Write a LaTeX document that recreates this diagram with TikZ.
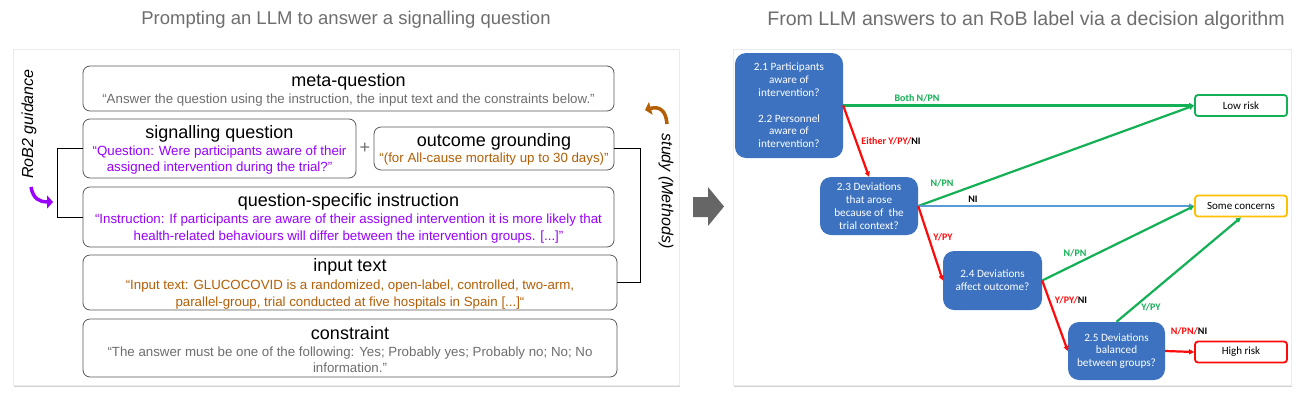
\documentclass[tikz,border=0pt]{standalone}
\usepackage{fontspec}
\setmainfont{Liberation Sans}
\newfontfamily\calibri{Carlito}
\usetikzlibrary{arrows.meta,shadows}
\definecolor{promptpurple}{RGB}{153,0,255}
\definecolor{promptorange}{RGB}{180,95,6}
\definecolor{promptgray}{RGB}{110,110,110}
\definecolor{boxline}{RGB}{89,89,89}
\definecolor{nodeblue}{RGB}{61,114,192}
\definecolor{riskgreen}{RGB}{20,176,85}
\definecolor{riskred}{RGB}{255,10,10}
\definecolor{riskorange}{RGB}{255,192,0}
\definecolor{lineblue}{RGB}{91,155,213}

\tikzset{
  panel/.style={fill=white, draw=black!8, inner sep=0pt,
    drop shadow={opacity=0.35, shadow xshift=1.2pt, shadow yshift=-1.5pt}},
  paneltitle/.style={text=promptgray, font=\fontsize{18.5}{20}\selectfont, inner sep=0pt},
  promptbox/.style={draw=boxline, line width=0.8pt, rounded corners=7pt, inner sep=0pt},
  boxtitle/.style={font=\fontsize{18}{20}\selectfont, inner sep=0pt},
  boxtext/.style={font=\fontsize{13.3}{16.5}\selectfont, align=center, inner sep=0pt},
  question/.style={fill=nodeblue, rounded corners=11pt, text=white, align=center,
    font=\calibri\fontsize{11.2}{12.8}\selectfont, inner sep=0pt},
  outcome/.style={draw=#1, fill=white, line width=1.8pt, rounded corners=3pt,
    font=\calibri\fontsize{11}{12}\selectfont, minimum width=92pt, minimum height=21pt, inner sep=0pt},
  link/.style={line width=2.2pt, -{Triangle[length=5pt,width=5pt]}},
  answer/.style={font=\calibri\bfseries\fontsize{10}{11}\selectfont, inner sep=0pt},
  sidenote/.style={font=\itshape\fontsize{16}{18}\selectfont, inner sep=0pt}
}

\begin{document}
\begin{tikzpicture}[x=1pt, y=-1pt]
  \useasboundingbox (0,0) rectangle (1306,408);

  % Panels and their titles
  \node[panel, minimum width=666, minimum height=336] (promptpanel) at (346,217) {};
  \node[panel, minimum width=558, minimum height=336] (treepanel) at (1012,217) {};
  \node[paneltitle] (lefttitle) at (346,20) {Prompting an LLM to answer a signalling question};
  \node[paneltitle, font=\fontsize{19.6}{21}\selectfont] (righttitle) at (1026,20) {From LLM answers to an RoB label via a decision algorithm};

  % Prompt parts
  \node[promptbox, minimum width=531, minimum height=45] (meta) at (348.5,88.5) {};
  \node[boxtitle] (metatitle) at (348.5,82) {meta-question};
  \node[boxtext, text=promptgray] (metatext) at (348.5,100) {“Answer the question using the instruction, the input text and the constraints below."};

  \node[promptbox, minimum width=273, minimum height=59] (sig) at (219.5,148.5) {};
  \node[boxtitle] (sigtitle) at (219.5,134) {signalling question};
  \node[boxtext, text=promptpurple] (sigtext) at (219.5,160) {“Question: Were participants aware of their\\assigned intervention during the trial?”};

  \node[font=\fontsize{18}{20}\selectfont, text=promptgray, inner sep=0pt] (plus) at (365,148) {+};

  \node[promptbox, minimum width=240, minimum height=43] (og) at (494,148.5) {};
  \node[boxtitle] (ogtitle) at (494,142) {outcome grounding};
  \node[boxtext, text=promptorange] (ogtext) at (494,159) {“(for All-cause mortality up to 30 days)”};

  \node[promptbox, minimum width=531, minimum height=60] (qsi) at (348.5,217) {};
  \node[boxtitle] (qsititle) at (348.5,202) {question-specific instruction};
  \node[boxtext, text=promptpurple] (qsitext) at (348.5,228.5) {“Instruction: If participants are aware of their assigned intervention it is more likely that\\health-related behaviours will differ between the intervention groups. [...]"};

  \node[promptbox, minimum width=534, minimum height=55] (inp) at (350,282.5) {};
  \node[boxtitle] (inptitle) at (350,267) {input text};
  \node[boxtext, text=promptorange] (inptext) at (350,294.5) {“Input text: GLUCOCOVID is a randomized, open-label, controlled, two-arm,\\parallel-group, trial conducted at five hospitals in Spain [...]“};

  \node[promptbox, minimum width=534, minimum height=58] (con) at (350,348) {};
  \node[boxtitle] (contitle) at (350,333) {constraint};
  \node[boxtext, text=promptgray] (context) at (350,359.5) {“The answer must be one of the following: Yes; Probably yes; Probably no; No; No\\information."};

  % Sources
  \draw (sig.west) -- ++(-25,0) |- (qsi.west);
  \draw (og.east) -- ++(26,0) |- (inp.east);
  \node[sidenote, rotate=90] (robguide) at (29,124) {RoB2 guidance};
  \node[sidenote, rotate=-90] (studymeth) at (666,191) {study (Methods)};
  \coordinate (robfrom) at (31,187);
  \coordinate (robto) at (53,202);
  \draw[promptpurple, line width=3.5pt, -{Triangle[length=6pt,width=13pt]}]
    (robfrom) .. controls (33,199) and (40,202) .. (robto);
  \coordinate (studyfrom) at (667,124);
  \coordinate (studyto) at (645,110);
  \draw[promptorange, line width=3.5pt, -{Triangle[length=6pt,width=13pt]}]
    (studyfrom) .. controls (666,110) and (659,106) .. (studyto);

  % Step between the panels
  \fill[black!60] (693,197) -- (708,197) -- (708,187) -- (724,206.5) -- (708,226) -- (708,217) -- (693,217) -- cycle;

  % Signalling questions
  \node[question, minimum width=108, minimum height=105] (q21) at (789,105.5)
    {2.1 Participants\\aware of\\intervention?\\[12.8pt]2.2 Personnel\\aware of\\intervention?};
  \node[question, minimum width=98, minimum height=58] (q23) at (869,206)
    {2.3 Deviations\\that arose\\because of~ the\\trial context?};
  \node[question, minimum width=99, minimum height=59] (q24) at (992.5,280.5)
    {2.4 Deviations\\affect outcome?};
  \node[question, minimum width=97, minimum height=58] (q25) at (1116.5,351)
    {2.5 Deviations\\balanced\\between groups?};

  % Risk labels
  \foreach \name/\y/\col/\txt in {low/105.5/riskgreen/Low risk, some/206/riskorange/Some concerns, high/352/riskred/High risk}
    \node[outcome=\col] (\name) at (1241,\y) {\txt};

  % Answers
  \draw[link, riskgreen] (q21.east) -- (low.west);
  \draw[link, riskred] (q21.east) -- (q23.north);
  \draw[link, riskgreen] (q23.east) -- (low.west);
  \draw[link, lineblue, line width=1.5pt] (q23.east) -- (some.west);
  \draw[link, riskred] (q23.east) -- (q24.west);
  \draw[link, riskgreen] (q24.east) -- (some.west);
  \draw[link, riskred] (q24.east) -- (q25.west);
  \draw[link, riskgreen] (q25.north) -- (some.south);
  \draw[link, riskred] (q25.east) -- (high.west);

  \node[answer, text=riskgreen] (a21no) at (917,98) {Both N/PN};
  \node[answer] (a21yes) at (891,141) {\color{riskred}Either Y/PY/\color{black}NI};
  \node[answer, text=riskgreen] (a23no) at (942,183) {N/PN};
  \node[answer] (a23ni) at (973,199) {NI};
  \node[answer, text=riskred] (a23yes) at (943,237) {Y/PY};
  \node[answer, text=riskgreen] (a24no) at (1075,253) {N/PN};
  \node[answer] (a24yes) at (1071,300) {\color{riskred}Y/PY/\color{black}NI};
  \node[answer, text=riskgreen] (a25yes) at (1151,307) {Y/PY};
  \node[answer] (a25no) at (1189,331) {\color{riskred}N/PN/\color{black}NI};
\end{tikzpicture}
\end{document}
